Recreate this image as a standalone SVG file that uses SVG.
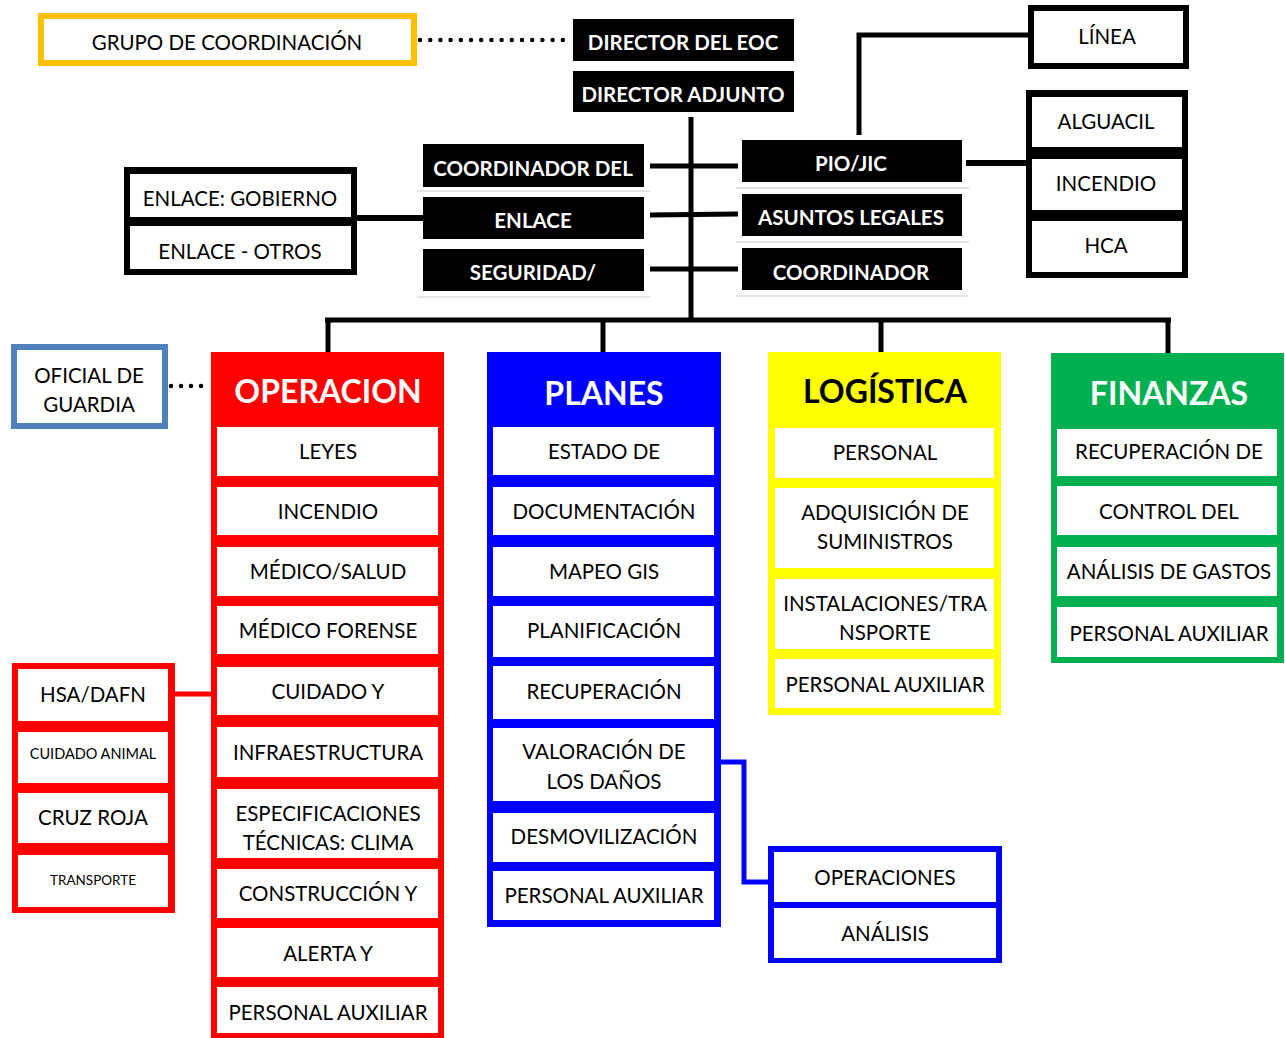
<svg xmlns="http://www.w3.org/2000/svg" width="1285" height="1038" viewBox="0 0 1285 1038">
  <style>
    text { font-family: Lato, "Open Sans", "Liberation Sans", sans-serif; text-anchor: middle; dominant-baseline: central; transform: translateY(1px); }
    .t { font-size: 20.5px; fill: #000; }
    .s1 { font-size: 14.5px; fill: #000; }
    .s2 { font-size: 13.5px; fill: #000; }
    .tb { font-size: 20.5px; font-weight: bold; fill: #fff; }
    .h { font-size: 32px; font-weight: bold; fill: #fff; }
    .hk { font-size: 32px; font-weight: bold; fill: #000; }
    .blk { fill: #000; }
    .cell { fill: #fff; }
    .faint { stroke: #dcdcdc; stroke-width: 1.5; fill: none; }
    .k { stroke: #000; fill: none; }
  </style>

  <rect width="1285" height="1038" fill="#fff"/>

  <!-- connectors -->
  <g id="connectors" stroke-linecap="butt">
    <line x1="420" y1="40" x2="564" y2="40" stroke="#000" stroke-width="4.5" stroke-linecap="round" stroke-dasharray="0 10.2"/>
    <line x1="171" y1="386" x2="202" y2="386" stroke="#000" stroke-width="4.5" stroke-linecap="round" stroke-dasharray="0 10"/>
    <line class="k" x1="691" y1="117" x2="691" y2="322" stroke-width="5"/>
    <line class="k" x1="650" y1="166" x2="738" y2="166" stroke-width="5"/>
    <line class="k" x1="650" y1="215" x2="738" y2="214" stroke-width="5"/>
    <line class="k" x1="650" y1="269" x2="738" y2="269" stroke-width="5"/>
    <line class="k" x1="357" y1="218" x2="423" y2="218" stroke-width="6"/>
    <line class="k" x1="966" y1="163" x2="1028" y2="163" stroke-width="6"/>
    <path class="k" d="M859 135 V35 H1028" stroke-width="5"/>
    <line class="k" x1="325" y1="320" x2="1171" y2="320" stroke-width="5"/>
    <line class="k" x1="328" y1="320" x2="328" y2="353" stroke-width="5"/>
    <line class="k" x1="603" y1="320" x2="603" y2="353" stroke-width="5"/>
    <line class="k" x1="881" y1="320" x2="881" y2="353" stroke-width="5"/>
    <line class="k" x1="1168" y1="320" x2="1168" y2="353" stroke-width="5"/>
    <line x1="175" y1="694" x2="211" y2="694" stroke="#ff0000" stroke-width="5"/>
    <path d="M721 762 H744 V882 H768" fill="none" stroke="#0000ff" stroke-width="5"/>
  </g>

  <!-- faint table rules around the command staff -->
  <g id="rules">
    <line class="faint" x1="417" y1="191" x2="650" y2="191"/>
    <line class="faint" x1="417" y1="297" x2="650" y2="297"/>
    <line class="faint" x1="736" y1="188" x2="969" y2="188"/>
    <line class="faint" x1="736" y1="242" x2="969" y2="242"/>
    <line class="faint" x1="736" y1="296" x2="969" y2="296"/>
  </g>

  <g id="grupo-coordinacion">
    <rect x="41" y="16" width="373" height="47" fill="#fff" stroke="#ffc000" stroke-width="6"/>
    <text class="t" x="227" y="41">GRUPO DE COORDINACIÓN</text>
  </g>

  <g id="director-eoc">
    <rect class="blk" x="573" y="19" width="221" height="42"/>
    <text class="tb" x="683" y="41">DIRECTOR DEL EOC</text>
  </g>
  <g id="director-adjunto">
    <rect class="blk" x="573" y="71" width="221" height="41"/>
    <text class="tb" x="683" y="93">DIRECTOR ADJUNTO</text>
  </g>

  <g id="coordinador-del">
    <rect class="blk" x="423" y="144" width="221" height="43"/>
    <text class="tb" x="533" y="167">COORDINADOR DEL</text>
  </g>
  <g id="enlace">
    <rect class="blk" x="423" y="197" width="221" height="42"/>
    <text class="tb" x="533" y="219">ENLACE</text>
  </g>
  <g id="seguridad">
    <rect class="blk" x="423" y="249" width="221" height="42"/>
    <text class="tb" x="533" y="271">SEGURIDAD/</text>
  </g>

  <g id="pio-jic">
    <rect class="blk" x="742" y="140" width="220" height="42"/>
    <text class="tb" x="851" y="162">PIO/JIC</text>
  </g>
  <g id="asuntos-legales">
    <rect class="blk" x="742" y="194" width="220" height="42"/>
    <text class="tb" x="851" y="216">ASUNTOS LEGALES</text>
  </g>
  <g id="coordinador">
    <rect class="blk" x="742" y="248" width="220" height="42"/>
    <text class="tb" x="851" y="271">COORDINADOR</text>
  </g>

  <g id="linea">
    <rect x="1031" y="8" width="155" height="58" fill="#fff" stroke="#000" stroke-width="6"/>
    <text class="t" x="1107" y="35">LÍNEA</text>
  </g>

  <g id="pio-grupo">
    <rect class="blk" x="1026" y="90" width="162" height="188"/>
    <rect class="cell" x="1032" y="97" width="150" height="50"/>
    <rect class="cell" x="1032" y="159" width="150" height="51"/>
    <rect class="cell" x="1032" y="221" width="150" height="51"/>
    <text class="t" x="1106" y="120">ALGUACIL</text>
    <text class="t" x="1106" y="182">INCENDIO</text>
    <text class="t" x="1106" y="244">HCA</text>
  </g>

  <g id="enlace-grupo">
    <rect class="blk" x="124" y="167" width="233" height="108"/>
    <rect class="cell" x="130" y="174" width="221" height="43"/>
    <rect class="cell" x="130" y="226" width="221" height="43"/>
    <text class="t" x="240" y="197">ENLACE: GOBIERNO</text>
    <text class="t" x="240" y="250">ENLACE - OTROS</text>
  </g>

  <g id="oficial-guardia">
    <rect x="14" y="347" width="151" height="79" fill="#fff" stroke="#4f81bd" stroke-width="6"/>
    <text class="t" x="89" y="374">OFICIAL DE</text>
    <text class="t" x="89" y="403">GUARDIA</text>
  </g>

  <!-- Operaciones section -->
  <g id="operacion">
    <rect x="211" y="352" width="233" height="690" fill="#ff0000"/>
    <text class="h" x="328" y="389">OPERACION</text>
    <rect class="cell" x="217" y="427" width="221" height="49"/>
    <rect class="cell" x="217" y="487" width="221" height="48"/>
    <rect class="cell" x="217" y="547" width="221" height="49"/>
    <rect class="cell" x="217" y="606" width="221" height="48"/>
    <rect class="cell" x="217" y="667" width="221" height="48"/>
    <rect class="cell" x="217" y="727" width="221" height="50"/>
    <rect class="cell" x="217" y="789" width="221" height="69"/>
    <rect class="cell" x="217" y="869" width="221" height="49"/>
    <rect class="cell" x="217" y="928" width="221" height="49"/>
    <rect class="cell" x="217" y="987" width="221" height="46"/>
    <text class="t" x="328" y="450">LEYES</text>
    <text class="t" x="328" y="510">INCENDIO</text>
    <text class="t" x="328" y="570">MÉDICO/SALUD</text>
    <text class="t" x="328" y="629">MÉDICO FORENSE</text>
    <text class="t" x="328" y="690">CUIDADO Y</text>
    <text class="t" x="328" y="751">INFRAESTRUCTURA</text>
    <text class="t" x="328" y="812">ESPECIFICACIONES</text>
    <text class="t" x="328" y="841">TÉCNICAS: CLIMA</text>
    <text class="t" x="328" y="892">CONSTRUCCIÓN Y</text>
    <text class="t" x="328" y="952">ALERTA Y</text>
    <text class="t" x="328" y="1011">PERSONAL AUXILIAR</text>
  </g>

  <g id="hsa-grupo">
    <rect x="12" y="663" width="163" height="250" fill="#ff0000"/>
    <rect class="cell" x="18" y="669" width="150" height="52"/>
    <rect class="cell" x="18" y="732" width="150" height="51"/>
    <rect class="cell" x="18" y="793" width="150" height="50"/>
    <rect class="cell" x="18" y="855" width="150" height="52"/>
    <text class="t" x="93" y="693">HSA/DAFN</text>
    <text class="s1" x="93" y="752">CUIDADO ANIMAL</text>
    <text class="t" x="93" y="816">CRUZ ROJA</text>
    <text class="s2" x="93" y="879">TRANSPORTE</text>
  </g>

  <!-- Planificación section -->
  <g id="planes">
    <rect x="487" y="352" width="234" height="575" fill="#0000ff"/>
    <text class="h" x="604" y="391">PLANES</text>
    <rect class="cell" x="493" y="427" width="221" height="48"/>
    <rect class="cell" x="493" y="487" width="221" height="48"/>
    <rect class="cell" x="493" y="547" width="221" height="49"/>
    <rect class="cell" x="493" y="606" width="221" height="51"/>
    <rect class="cell" x="493" y="666" width="221" height="53"/>
    <rect class="cell" x="493" y="728" width="221" height="73"/>
    <rect class="cell" x="493" y="813" width="221" height="49"/>
    <rect class="cell" x="493" y="871" width="221" height="49"/>
    <text class="t" x="604" y="450">ESTADO DE</text>
    <text class="t" x="604" y="510">DOCUMENTACIÓN</text>
    <text class="t" x="604" y="570">MAPEO GIS</text>
    <text class="t" x="604" y="629">PLANIFICACIÓN</text>
    <text class="t" x="604" y="690">RECUPERACIÓN</text>
    <text class="t" x="604" y="750">VALORACIÓN DE</text>
    <text class="t" x="604" y="780">LOS DAÑOS</text>
    <text class="t" x="604" y="835">DESMOVILIZACIÓN</text>
    <text class="t" x="604" y="894">PERSONAL AUXILIAR</text>
  </g>

  <g id="operaciones-analisis">
    <rect x="768" y="846" width="234" height="117" fill="#0000ff"/>
    <rect class="cell" x="774" y="852" width="222" height="50"/>
    <rect class="cell" x="774" y="908" width="222" height="50"/>
    <text class="t" x="885" y="876">OPERACIONES</text>
    <text class="t" x="885" y="932">ANÁLISIS</text>
  </g>

  <!-- Logística section -->
  <g id="logistica">
    <rect x="768" y="352" width="233" height="363" fill="#ffff00"/>
    <text class="hk" x="885" y="389">LOGÍSTICA</text>
    <rect class="cell" x="775" y="428" width="219" height="50"/>
    <rect class="cell" x="775" y="488" width="219" height="80"/>
    <rect class="cell" x="775" y="579" width="219" height="70"/>
    <rect class="cell" x="775" y="659" width="219" height="49"/>
    <text class="t" x="885" y="451">PERSONAL</text>
    <text class="t" x="885" y="511">ADQUISICIÓN DE</text>
    <text class="t" x="885" y="540">SUMINISTROS</text>
    <text class="t" x="885" y="602">INSTALACIONES/TRA</text>
    <text class="t" x="885" y="631">NSPORTE</text>
    <text class="t" x="885" y="683">PERSONAL AUXILIAR</text>
  </g>

  <!-- Finanzas section -->
  <g id="finanzas">
    <rect x="1051" y="353" width="233" height="310" fill="#00b050"/>
    <text class="h" x="1169" y="391">FINANZAS</text>
    <rect class="cell" x="1057" y="429" width="220" height="47"/>
    <rect class="cell" x="1057" y="486" width="220" height="49"/>
    <rect class="cell" x="1057" y="547" width="220" height="49"/>
    <rect class="cell" x="1057" y="607" width="220" height="50"/>
    <text class="t" x="1169" y="450">RECUPERACIÓN DE</text>
    <text class="t" x="1169" y="510">CONTROL DEL</text>
    <text class="t" x="1169" y="570">ANÁLISIS DE GASTOS</text>
    <text class="t" x="1169" y="632">PERSONAL AUXILIAR</text>
  </g>
</svg>
